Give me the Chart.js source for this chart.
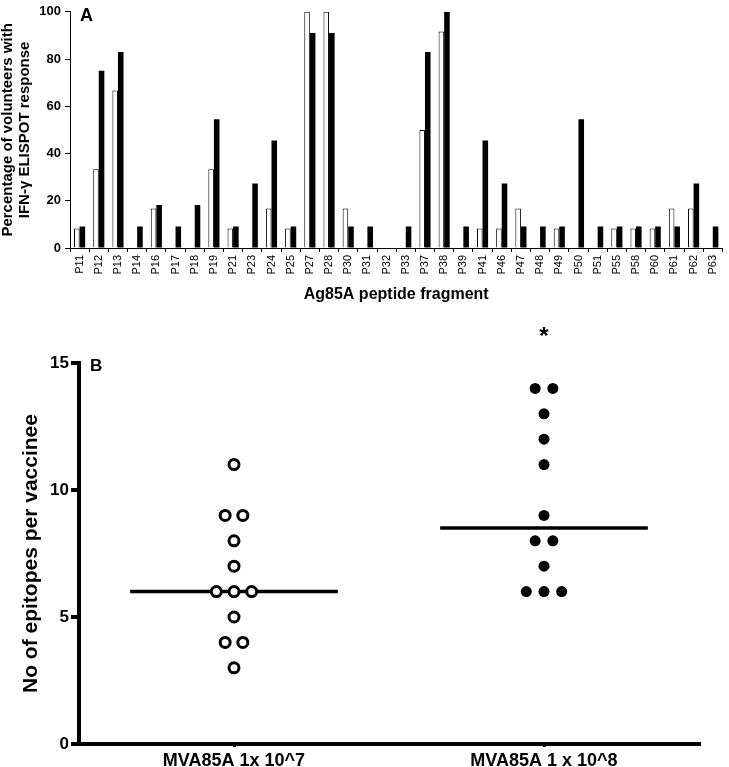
<!DOCTYPE html>
<html>
<head>
<meta charset="utf-8">
<script src="https://cdn.jsdelivr.net/npm/chart.js@4"></script>
<style>
  html, body { margin: 0; padding: 0; background: #fff; }
  #wrap { position: relative; width: 729px; height: 767px; }
  canvas { position: absolute; left: 0; }
  #chartA { top: 0; }
  #chartB { top: 305px; }
</style>
</head>
<body>
<div id="wrap">
  <canvas id="chartA" width="729" height="305"></canvas>
  <canvas id="chartB" width="729" height="462"></canvas>
</div>
<script>
(function () {
  // panel A: % of volunteers responding to each peptide
  const peptides = ['P11', 'P12', 'P13', 'P14', 'P16', 'P17', 'P18', 'P19', 'P21', 'P23', 'P24', 'P25',
    'P27', 'P28', 'P30', 'P31', 'P32', 'P33', 'P37', 'P38', 'P39', 'P41', 'P46', 'P47', 'P48', 'P49',
    'P50', 'P51', 'P55', 'P58', 'P60', 'P61', 'P62', 'P63'];
  const lowDose = [8.3, 33.3, 66.7, 0, 16.7, 0, 0, 33.3, 8.3, 0, 16.7, 8.3,
    100, 100, 16.7, 0, 0, 0, 50, 91.7, 0, 8.3, 8.3, 16.7, 0, 8.3,
    0, 0, 8.3, 8.3, 8.3, 16.7, 16.7, 0];
  const highDose = [9.1, 75, 83, 9.1, 18.2, 9.1, 18.2, 54.5, 9.1, 27.3, 45.5, 9.1,
    91, 91, 9.1, 9.1, 0, 9.1, 83, 100, 9.1, 45.5, 27.3, 9.1, 9.1, 9.1,
    54.5, 9.1, 9.1, 9.1, 9.1, 9.1, 27.3, 9.1];
  const yTicksA = [0, 20, 40, 60, 80, 100];

  // panel B: number of epitopes per vaccinee
  const groups = ['MVA85A 1x 10^7', 'MVA85A 1 x 10^8'];
  const epitopesLow = [11, 9, 9, 8, 7, 6, 6, 6, 5, 4, 4, 3];
  const epitopesHigh = [14, 14, 13, 12, 11, 9, 8, 8, 7, 6, 6, 6];
  const significant = [false, true];
  const yTicksB = [0, 5, 10, 15];

  const FONT = "'Liberation Sans', Arial, sans-serif";
  const DOT_GAP = 0.057;     // horizontal gap between tied dots (x units)
  const MEDIAN_HALF = 0.335; // half length of median bar (x units)

  Chart.defaults.font.family = FONT;
  Chart.defaults.color = '#000';

  function panelLabel(letter, size, dx, dy) {
    return {
      id: 'panel' + letter,
      afterDraw(chart) {
        const c = chart.ctx, a = chart.chartArea;
        c.save();
        c.fillStyle = '#000';
        c.font = 'bold ' + size + 'px ' + FONT;
        c.textBaseline = 'alphabetic';
        c.fillText(letter, a.left + dx, a.top + dy);
        c.restore();
      }
    };
  }

  function median(vals) {
    const s = vals.slice().sort((a, b) => a - b);
    const m = Math.floor(s.length / 2);
    return s.length % 2 ? s[m] : (s[m - 1] + s[m]) / 2;
  }

  // spread tied values side by side around the group centre
  function spread(vals, group) {
    const counts = {}, seen = {};
    vals.forEach(v => counts[v] = (counts[v] || 0) + 1);
    return vals.map(v => {
      const k = seen[v] = (seen[v] || 0) + 1;
      return { x: group + (k - 1 - (counts[v] - 1) / 2) * DOT_GAP, y: v };
    });
  }

  new Chart(document.getElementById('chartA'), {
    type: 'bar',
    data: {
      labels: peptides,
      datasets: [
        { data: lowDose, backgroundColor: '#fff', borderColor: '#000', borderWidth: 1,
          barPercentage: 1, categoryPercentage: 0.58 },
        { data: highDose, backgroundColor: '#000', borderColor: '#000', borderWidth: 0,
          barPercentage: 1, categoryPercentage: 0.58 }
      ]
    },
    options: {
      responsive: false,
      animation: false,
      devicePixelRatio: 1,
      layout: { padding: { top: 6, right: 1, left: 0, bottom: 0 } },
      plugins: { legend: { display: false }, tooltip: { enabled: false } },
      scales: {
        x: {
          offset: true,
          grid: { display: true, offset: true, drawOnChartArea: false, tickLength: 4, color: '#000' },
          border: { display: true, color: '#000', width: 1 },
          ticks: { minRotation: 90, maxRotation: 90, autoSkip: false, padding: 3,
            font: { size: 11 } },
          title: { display: true, text: 'Ag85A peptide fragment',
            font: { size: 16, weight: 'bold', lineHeight: 1.1 }, padding: { top: 0, bottom: 2 } },
          afterFit: s => { s.height = 57; }
        },
        y: {
          min: 0, max: 100,
          afterBuildTicks: s => { s.ticks = yTicksA.map(v => ({ value: v })); },
          ticks: { padding: 4, font: { size: 13, weight: 'bold' } },
          grid: { drawOnChartArea: false, tickLength: 5, color: '#000' },
          border: { display: true, color: '#000', width: 1 },
          title: { display: true, text: ['Percentage of volunteers with', 'IFN-\u03b3 ELISPOT response'],
            font: { size: 15, weight: 'bold', lineHeight: 1.1 }, padding: { top: 0, bottom: 0 } },
          afterFit: s => { s.width = 70; }
        }
      }
    },
    plugins: [panelLabel('A', 18, 10, 9)]
  });

  const mLow = median(epitopesLow);
  const mHigh = median(epitopesHigh);

  const stars = {
    id: 'stars',
    afterDraw(chart) {
      const c = chart.ctx, xs = chart.scales.x, a = chart.chartArea;
      c.save();
      c.fillStyle = '#000';
      c.font = 'bold 24px ' + FONT;
      c.textAlign = 'center';
      c.textBaseline = 'alphabetic';
      significant.forEach((s, i) => {
        if (s) c.fillText('*', xs.getPixelForValue(i), a.top - 19);
      });
      c.restore();
    }
  };

  new Chart(document.getElementById('chartB'), {
    type: 'scatter',
    data: {
      datasets: [
        { type: 'line', data: [{ x: -MEDIAN_HALF, y: mLow }, { x: MEDIAN_HALF, y: mLow }],
          borderColor: '#000', borderWidth: 3.5, pointRadius: 0, order: 2 },
        { type: 'line', data: [{ x: 1 - MEDIAN_HALF, y: mHigh }, { x: 1 + MEDIAN_HALF, y: mHigh }],
          borderColor: '#000', borderWidth: 3.5, pointRadius: 0, order: 2 },
        { data: spread(epitopesLow, 0), pointRadius: 5, pointBorderWidth: 3,
          pointBackgroundColor: '#fff', pointBorderColor: '#000', order: 1 },
        { data: spread(epitopesHigh, 1), pointRadius: 5.5, pointBorderWidth: 0,
          pointBackgroundColor: '#000', pointBorderColor: '#000', order: 1 }
      ]
    },
    options: {
      responsive: false,
      animation: false,
      devicePixelRatio: 1,
      layout: { padding: { top: 58, right: 30, left: 0, bottom: 0 } },
      plugins: { legend: { display: false }, tooltip: { enabled: false } },
      scales: {
        x: {
          type: 'linear', min: -0.5, max: 1.5,
          afterBuildTicks: s => { s.ticks = groups.map((g, i) => ({ value: i })); },
          ticks: { callback: v => groups[v], maxRotation: 0, autoSkip: false, padding: 3,
            font: { size: 18, weight: 'bold' } },
          grid: { drawOnChartArea: false, tickLength: 3, lineWidth: 3, color: '#000' },
          border: { display: true, color: '#000', width: 4 },
          afterFit: s => { s.height = 23; }
        },
        y: {
          min: 0, max: 15,
          afterBuildTicks: s => { s.ticks = yTicksB.map(v => ({ value: v })); },
          ticks: { padding: 2, font: { size: 17, weight: 'bold' } },
          grid: { drawOnChartArea: false, tickLength: 8, lineWidth: 4, color: '#000' },
          border: { display: true, color: '#000', width: 4 },
          title: { display: true, text: 'No of epitopes per vaccinee',
            font: { size: 21, weight: 'bold', lineHeight: 1.2 }, padding: { top: 19, bottom: 0 } },
          afterFit: s => { s.width = 79; }
        }
      }
    },
    plugins: [panelLabel('B', 17, 11, 8), stars]
  });
})();
</script>
</body>
</html>
